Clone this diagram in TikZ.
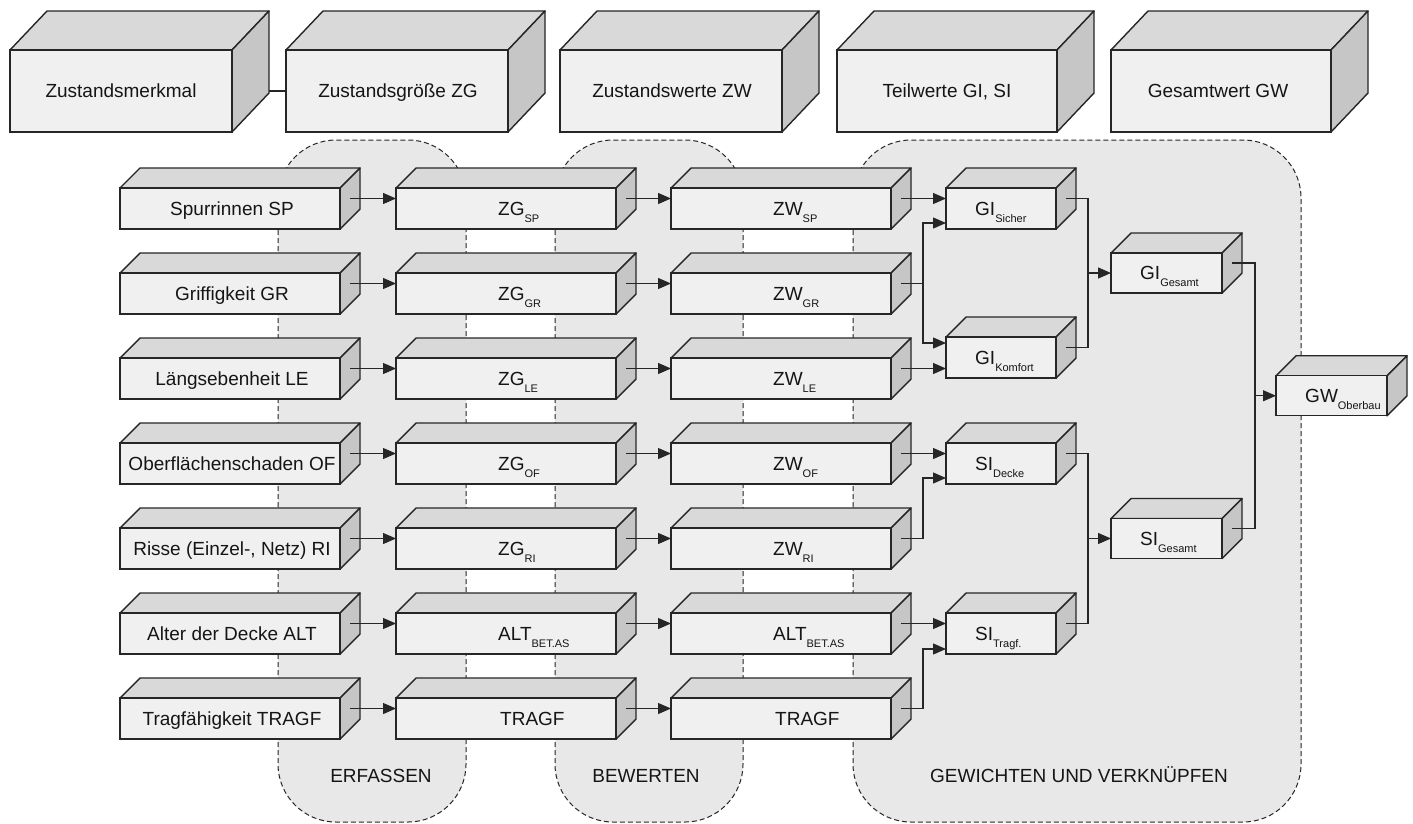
\documentclass[tikz,border=0pt]{standalone}
\usepackage{fontspec}
\setmainfont{Liberation Sans}
\usetikzlibrary{arrows.meta,calc}
\definecolor{regfill}{HTML}{E8E8E8}
\definecolor{frontc}{HTML}{F0F0F0}
\definecolor{topc}{HTML}{D9D9D9}
\definecolor{sidec}{HTML}{C6C6C6}
\definecolor{linec}{HTML}{262626}
\definecolor{textc}{HTML}{151515}
\tikzset{
  topface/.style={fill=topc, draw=linec, line width=1.4pt, line join=round},
  sideface/.style={fill=sidec, draw=linec, line width=1.4pt, line join=round},
  frontface/.style={rectangle, fill=frontc, draw=linec, line width=1.4pt, inner sep=0pt, outer sep=0pt},
  lbl/.style={font=\fontsize{19}{22}\selectfont, text=textc, inner sep=0pt},
  conn/.style={draw=linec, line width=1.2pt},
  arr/.style={conn, -{Triangle[length=13pt,width=11pt]}},
  region/.style={fill=regfill, draw=linec, dash pattern=on 5pt off 3pt, line width=1pt, rounded corners=58pt},
}
\def\cdx{20}
\def\cdy{20}
% #1 name, #2 x, #3 y (top of front face), #4 width, #5 height
\newcommand\cube[5]{%
  \filldraw[topface] (#2,#3) -- ++(\cdx,-\cdy) -- ++(#4,0) -- ++(-\cdx,\cdy) -- cycle;
  \filldraw[sideface] (#2+#4,#3) -- ++(\cdx,-\cdy) -- ++(0,#5) -- ++(-\cdx,\cdy) -- cycle;
  \node[frontface, minimum width=#4pt, minimum height=#5pt, anchor=north west] (#1) at (#2,#3) {};
  \coordinate (#1-out) at ($(#1.east)+(0.5*\cdx,-0.5*\cdy)$);
}
\newcommand\sub[1]{\raisebox{-7pt}{\fontsize{11}{12}\selectfont #1}}
\begin{document}
\begin{tikzpicture}[x=1pt,y=-1pt]
\useasboundingbox (0,0) rectangle (1413,823);
\fill[white] (0,0) rectangle (1413,823);

% regions
\draw[region] (278,140) rectangle (466,822);
\draw[region] (555,140) rectangle (743,822);
\draw[region] (853,140) rectangle (1301,822);
\node[lbl, anchor=base] (erf) at (381,782) {ERFASSEN};
\node[lbl, anchor=base] (bew) at (646,782) {BEWERTEN};
\node[lbl, anchor=base] (gew) at (1079,782) {GEWICHTEN UND VERKNÜPFEN};

% top row
\begin{scope}
\def\cdx{37}\def\cdy{39}
\cube{tm1}{10}{50}{222}{82}
\cube{tm2}{286}{50}{222}{82}
\cube{tm3}{560}{50}{222}{82}
\cube{tm4}{837}{50}{220}{82}
\cube{tm5}{1111}{50}{220}{82}
\draw[conn] ($(tm1.east)+(\cdx,0)$) -- (tm2.west);
\end{scope}
\node[lbl, anchor=base] (tm1t) at (121,97.8) {Zustandsmerkmal};
\node[lbl, anchor=base] (tm2t) at (398,97.8) {Zustandsgröße ZG};
\node[lbl, anchor=base] (tm3t) at (672,97.8) {Zustandswerte ZW};
\node[lbl, anchor=base] (tm4t) at (947,97.8) {Teilwerte GI, SI};
\node[lbl, anchor=base] (tm5t) at (1218,97.8) {Gesamtwert GW};

% column 1
\cube{a1}{120}{188}{220}{41}
\cube{a2}{120}{273}{220}{41}
\cube{a3}{120}{358}{220}{41}
\cube{a4}{120}{443}{220}{41}
\cube{a5}{120}{528}{220}{41}
\cube{a6}{120}{613}{220}{41}
\cube{a7}{120}{698}{220}{41}
\node[lbl, anchor=base] (a1t) at (232,215.3) {Spurrinnen SP};
\node[lbl, anchor=base] (a2t) at (232,300.3) {Griffigkeit GR};
\node[lbl, anchor=base] (a3t) at (232,385.3) {Längsebenheit LE};
\node[lbl, anchor=base] (a4t) at (232,470.3) {Oberflächenschaden OF};
\node[lbl, anchor=base] (a5t) at (232,555.3) {Risse (Einzel-, Netz) RI};
\node[lbl, anchor=base] (a6t) at (232,640.3) {Alter der Decke ALT};
\node[lbl, anchor=base] (a7t) at (232,725.3) {Tragfähigkeit TRAGF};

% column 2
\cube{b1}{396}{188}{220}{41}
\cube{b2}{396}{273}{220}{41}
\cube{b3}{396}{358}{220}{41}
\cube{b4}{396}{443}{220}{41}
\cube{b5}{396}{528}{220}{41}
\cube{b6}{396}{613}{220}{41}
\cube{b7}{396}{698}{220}{41}
\node[lbl, anchor=base west] (b1t) at (498,215.3) {ZG\sub{SP}};
\node[lbl, anchor=base west] (b2t) at (498,300.3) {ZG\sub{GR}};
\node[lbl, anchor=base west] (b3t) at (498,385.3) {ZG\sub{LE}};
\node[lbl, anchor=base west] (b4t) at (498,470.3) {ZG\sub{OF}};
\node[lbl, anchor=base west] (b5t) at (498,555.3) {ZG\sub{RI}};
\node[lbl, anchor=base west] (b6t) at (498,640.3) {ALT\sub{BET.AS}};
\node[lbl, anchor=base west] (b7t) at (500,725.3) {TRAGF};

% column 3
\cube{c1}{671}{188}{220}{41}
\cube{c2}{671}{273}{220}{41}
\cube{c3}{671}{358}{220}{41}
\cube{c4}{671}{443}{220}{41}
\cube{c5}{671}{528}{220}{41}
\cube{c6}{671}{613}{220}{41}
\cube{c7}{671}{698}{220}{41}
\node[lbl, anchor=base west] (c1t) at (773,215.3) {ZW\sub{SP}};
\node[lbl, anchor=base west] (c2t) at (773,300.3) {ZW\sub{GR}};
\node[lbl, anchor=base west] (c3t) at (773,385.3) {ZW\sub{LE}};
\node[lbl, anchor=base west] (c4t) at (773,470.3) {ZW\sub{OF}};
\node[lbl, anchor=base west] (c5t) at (773,555.3) {ZW\sub{RI}};
\node[lbl, anchor=base west] (c6t) at (773,640.3) {ALT\sub{BET.AS}};
\node[lbl, anchor=base west] (c7t) at (775,725.3) {TRAGF};

% small boxes
\cube{GIs}{946}{188}{110}{41}
\cube{GIk}{946}{337}{110}{41}
\cube{SId}{946}{443}{110}{41}
\cube{SIt}{946}{613}{110}{41}
\cube{GIg}{1111}{253}{111}{40}
\cube{SIg}{1111}{518.5}{111}{40}
\cube{GWo}{1276}{375.75}{111}{40}
\node[lbl, anchor=base west] (GIst) at (975,215.3) {GI\sub{Sicher}};
\node[lbl, anchor=base west] (GIkt) at (975,364.3) {GI\sub{Komfort}};
\node[lbl, anchor=base west] (SIdt) at (975,470.3) {SI\sub{Decke}};
\node[lbl, anchor=base west] (SItt) at (975,640.3) {SI\sub{Tragf.}};
\node[lbl, anchor=base west] (GIgt) at (1140,279.8) {GI\sub{Gesamt}};
\node[lbl, anchor=base west] (SIgt) at (1140,545.3) {SI\sub{Gesamt}};
\node[lbl, anchor=base west] (GWot) at (1305,402.5) {GW\sub{Oberbau}};

% arrows column 1 -> 2 -> 3
\foreach \p/\q in {a1/b1,a2/b2,a3/b3,a4/b4,a5/b5,a6/b6,a7/b7,b1/c1,b2/c2,b3/c3,b4/c4,b5/c5,b6/c6,b7/c7}{
  \draw[arr] (\p-out) -- (\p-out -| \q.west);
}

% column 3 -> small boxes
\coordinate (GIs-in2) at ($(GIs.north west)+(0,35)$);
\coordinate (GIk-in1) at ($(GIk.north west)+(0,6)$);
\coordinate (SId-in2) at ($(SId.north west)+(0,35)$);
\coordinate (SIt-in2) at ($(SIt.north west)+(0,36)$);
\draw[arr] (c1-out) -- (c1-out -| GIs.west);
\draw[arr] (c2-out) -- ++(22,0) |- (GIs-in2);
\draw[arr] (c2-out) ++(22,0) |- (GIk-in1);
\draw[arr] (c3-out) -- (c3-out -| GIk.west);
\draw[arr] (c4-out) -- (c4-out -| SId.west);
\draw[arr] (c5-out) -- ++(22,0) |- (SId-in2);
\draw[arr] (c6-out) -- (c6-out -| SIt.west);
\draw[arr] (c7-out) -- ++(22,0) |- (SIt-in2);

% combining
\draw[conn] (GIs-out) -- ++(22,0) coordinate (m1) |- (GIk-out);
\draw[arr] (GIg.west -| m1) -- (GIg.west);
\draw[conn] (SId-out) -- ++(22,0) coordinate (m2) |- (SIt-out);
\draw[arr] (SIg.west -| m2) -- (SIg.west);
\draw[conn] (GIg-out) -- ++(23,0) coordinate (m3) |- (SIg-out);
\draw[arr] (GWo.west -| m3) -- (GWo.west);
\end{tikzpicture}
\end{document}
